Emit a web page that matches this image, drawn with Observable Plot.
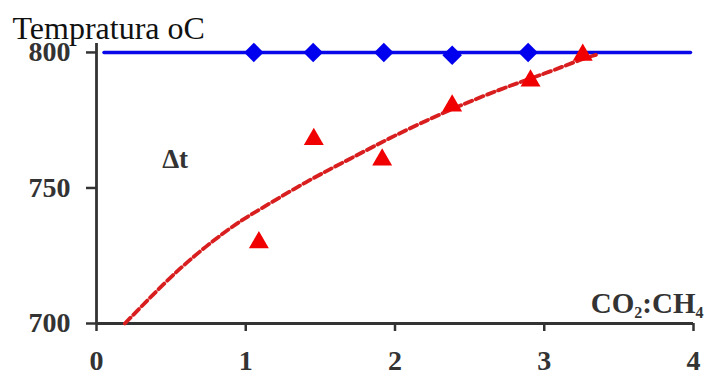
<!DOCTYPE html>
<html>
<head>
<meta charset="utf-8">
<script src="https://cdn.jsdelivr.net/npm/d3@7"></script>
<script src="https://cdn.jsdelivr.net/npm/@observablehq/plot@0.6"></script>
<style>
  html, body { margin: 0; padding: 0; background: #fff; }
  #chart svg { display: block; }
  #chart g[aria-label="x-axis tick label"],
  #chart g[aria-label="y-axis tick label"] { font-weight: bold; font-size: 28px; }
</style>
</head>
<body>
<div id="chart"></div>
<script>
// Axis ticks
const xTicks = [0, 1, 2, 3, 4];
const yTicks = [700, 750, 800];

// Set-point temperature line (blue)
const setLineX = [0.05, 3.98];
const setLineY = [800, 800];

// Blue diamonds: furnace temperature
const diamondX = [1.054, 1.452, 1.925, 2.383, 2.892];
const diamondY = [800, 800, 800, 799, 800];

// Red triangles: measured temperature
const triX = [1.088, 1.456, 1.914, 2.383, 2.908, 3.258];
const triY = [729.9, 768, 760.4, 780.3, 789.6, 799.1];

// Red dashed trend curve
const trendX = [0.19, 0.45, 0.67, 0.9, 1.1, 1.4, 1.7, 2.0, 2.35, 2.7, 3.0, 3.24, 3.36];
const trendY = [700, 714.5, 725.5, 735.3, 742.3, 752, 760.8, 769.3, 778.3, 786.2, 792.2, 797.2, 799.3];

// Annotation
const noteX = [0.44];
const noteY = [757.3];

const setLine = setLineX.map((x, i) => ({x, y: setLineY[i]}));
const diamonds = diamondX.map((x, i) => ({x, y: diamondY[i]}));
const tris = triX.map((x, i) => ({x, y: triY[i]}));
const trend = trendX.map((x, i) => ({x, y: trendY[i]}));
const notes = noteX.map((x, i) => ({x, y: noteY[i], t: "\u0394t"}));

const axisColor = "#333";

const chart = Plot.plot({
  width: 705,
  height: 370,
  marginLeft: 96,
  marginRight: 12,
  marginTop: 43,
  marginBottom: 47,
  style: {fontFamily: "'Liberation Serif', 'Times New Roman', serif", background: "#fff", overflow: "visible"},
  x: {domain: [0, 4]},
  y: {domain: [700, 803.3]},
  marks: [
    Plot.axisX(xTicks, {tickSize: 8, tickPadding: 19, tickFormat: d3.format("d"), fontSize: 28, fontWeight: "bold", color: axisColor, strokeWidth: 2.5, label: null}),
    Plot.axisY(yTicks, {tickSize: 10, tickPadding: 16, tickFormat: d3.format("d"), fontSize: 28, fontWeight: "bold", color: axisColor, strokeWidth: 2.5, label: null}),
    Plot.ruleX([0], {stroke: axisColor, strokeWidth: 2.8}),
    Plot.ruleY([700], {stroke: axisColor, strokeWidth: 2.8}),
    Plot.line(setLine, {x: "x", y: "y", stroke: "#0808e8", strokeWidth: 3.4}),
    Plot.dot(diamonds, {x: "x", y: "y", symbol: "diamond2", r: 8.8, fill: "#0000ee", stroke: "none"}),
    Plot.line(trend, {x: "x", y: "y", curve: "natural", stroke: "#d81e1e", strokeWidth: 3.8, strokeDasharray: "8,4"}),
    Plot.dot(tris, {x: "x", y: "y", symbol: "triangle", r: 7.4, fill: "#f00000", stroke: "none"}),
    Plot.text(notes, {x: "x", y: "y", text: "t", textAnchor: "start", lineAnchor: "bottom", fontSize: 27, fontWeight: "bold", fill: "#333"}),
    Plot.text(["Tempratura oC"], {frameAnchor: "top-left", dx: -84, dy: -5, textAnchor: "start", lineAnchor: "bottom", fontSize: 32, fill: "#111"}),
    Plot.text(["CO2:CH4"], {frameAnchor: "bottom-right", dx: 10, dy: -11, textAnchor: "end", lineAnchor: "bottom", fontSize: 29, fontWeight: "bold", fill: "#333"})
  ]
});

// subscripts for the chemical formula
d3.select(chart).selectAll("text").filter(function() { return this.textContent === "CO2:CH4"; })
  .each(function() {
    const t = d3.select(this);
    t.text(null);
    const parts = [["CO", false], ["2", true], [":CH", false], ["4", true]];
    let shifted = false;
    parts.forEach(([s, sub]) => {
      const ts = t.append("tspan").text(s);
      if (sub) { ts.attr("font-size", 16).attr("dy", shifted ? 0 : 5); shifted = true; }
      else { if (shifted) ts.attr("dy", -5); shifted = false; }
    });
  });

document.getElementById("chart").appendChild(chart);
</script>
</body>
</html>
